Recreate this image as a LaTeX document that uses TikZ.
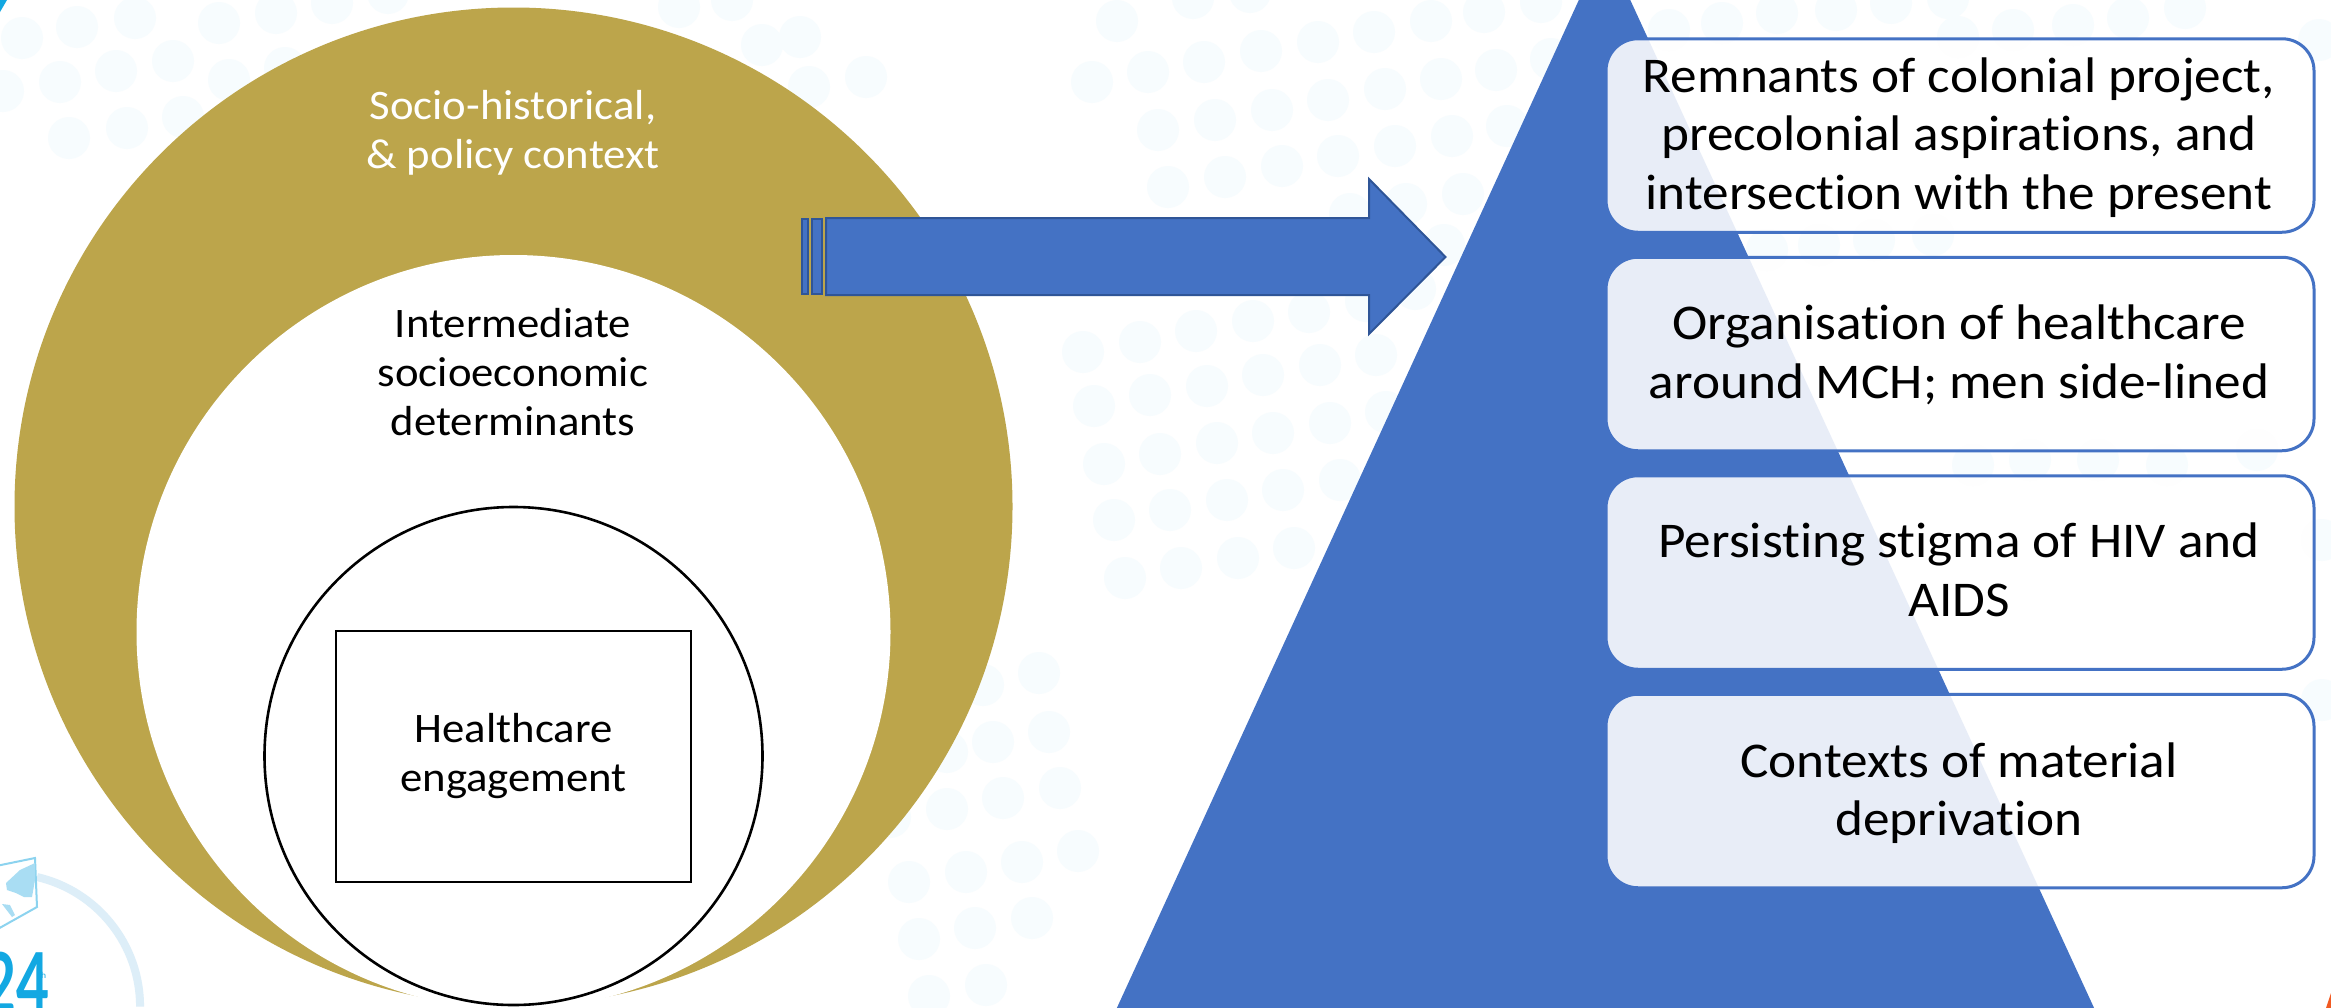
\documentclass[tikz,border=0pt]{standalone}
\usepackage{fontspec}
\setmainfont{Carlito}[FakeStretch=1.065,Ligatures=CommonOff]
\newfontfamily\logofont{Lato}[FakeStretch=0.68]
\definecolor{goldfill}{HTML}{BCA54B}
\definecolor{bluefill}{HTML}{4472C4}
\definecolor{bluedark}{HTML}{2F5597}
\definecolor{dotpale}{HTML}{F7FCFE}
\definecolor{ringpale}{HTML}{DDEEF8}
\definecolor{logoblue}{HTML}{13A8E2}
\definecolor{logoedge}{HTML}{8CD3EF}
\definecolor{logomap}{HTML}{A9DDF3}
\definecolor{sliver}{HTML}{F15A22}
\tikzset{
  x=1pt,y=-1pt,
  dotmark/.style={fill=dotpale,draw=none},
  ring/.style={circle,inner sep=0pt,draw=none},
  lblsmall/.style={font=\fontsize{42}{49}\selectfont,align=center,inner sep=0pt},
  lblbig/.style={font=\fontsize{50}{58.6}\selectfont,align=center,inner sep=0pt,text=black},
  factbox/.style={rectangle,rounded corners=32pt,minimum width=708pt,minimum height=193.5pt,inner sep=0pt,
    draw=bluefill,line width=3pt,fill=white,fill opacity=.88,draw opacity=1},
  arrowpart/.style={fill=bluefill,draw=bluedark,line width=2pt,line join=miter},
}
\begin{document}
\begin{tikzpicture}
\useasboundingbox (0,0) rectangle (2331,1007);
\clip (0,0) rectangle (2331,1007);
\fill[white] (0,0) rectangle (2331,1007);
% background dots
\foreach \px/\py in {22/38,77/27,135/18,219/23,276/13,332/3,388/-7,3/91,60/82,116/71,173/61,229/80,285/68,69/138,127/128,183/117,
 679/7,732/0,762/45,800/37,866/77,809/87,
 983/685,1039/673,993/742,1049/732,947/752,1003/798,1060/788,947/809,890/817,909/882,966/872,1022/862,1078/851,919/939,975/928,1032/918,929/996,986/985,
 1669/30,1722/23,1777/13,1836/10,1891/3,1948/-2,1958/37,2013/30,2073/25,2128/18,2185/8,2319/40,
 1767/250,1819/245,1874/240,1933/235,1973/465,2030/460,2098/460,2167/465,2257/450,2322/540,2322/700,
 1117/21,1193/-2,1250/-8,
 1092/82,1148/72,1204/62,1261/51,1318/42,1374/32,1431/21,1484/12,1541/2,
 1158/130,1215/120,1272/110,1328/100,1385/89,1441/79,1496/70,1551/59,
 1168/187,1225/177,1282/166,1338/156,1395/146,1452/136,1507/126,
 1350/214,1406/204,1463/194,1444/245,1415/289,
 1083/352,1140/342,1196/331,1253/321,1309/312,1366/301,
 1094/406,1150/395,1207/386,1263/375,1320/365,1376/355,
 1104/464,1160/454,1217/443,1273/433,1330/423,1386/412,
 1114/520,1170/510,1227/500,1283/490,1340/480,
 1125/578,1181/568,1238/558,1294/548}{
  \path[dotmark] (\px,\py) circle[radius=21];
}
% logo
\draw[ringpale,line width=8pt] (37,877) arc[start angle=-77,end angle=0,radius=133];
\path[fill=white,draw=logoedge,line width=2pt] (-4,866) -- (35,858) -- (37,907) -- (-4,930) -- cycle;
\path[fill=logomap] (6,883) -- (20,870) -- (35,863) -- (35,880) -- (32,897) -- (24,897) -- (16,893) -- (7,890) -- cycle;
\path[fill=logomap] (2,904) -- (10,905) -- (15,915) -- (12,917) -- cycle;
\node[anchor=base east,inner sep=0pt,text=logoblue,font=\logofont\bfseries\fontsize{84}{84}\selectfont] (logo) at (50,1013) {24};
\node[anchor=center,inner sep=0pt,text=logoblue,font=\fontsize{9}{9}\selectfont] (logoth) at (42,975) {th};
\path[fill=sliver] (2332,990) -- (2326,1008) -- (2332,1008) -- cycle;
\path[fill=logoblue] (0,0) -- (7,0) -- (0,12) -- cycle;
% nested circles
\node[ring,fill=goldfill,minimum size=998pt] (outer) at (513.5,506.5) {};
\node[ring,fill=white,minimum size=754pt] (inner) at (513.5,632) {};
\node[ring,fill=white,draw=black,line width=2.6pt,minimum size=498pt] (core) at (513.5,756) {};
\node[rectangle,draw=black,line width=2pt,fill=white,minimum width=355pt,minimum height=251pt,inner sep=0pt,lblsmall] (care) at (513.5,756.5) {Healthcare\\engagement};
\node[lblsmall,text=white] (socio) at (513,132.5) {Socio-historical,\\\& policy context};
\node[lblsmall] (inter) at (513,372) {Intermediate\\socioeconomic\\determinants};
% pyramid
\path[fill=bluefill] (1604.5,-56) -- (2118,1060) -- (1093,1060) -- cycle;
% arrow
\path[arrowpart] (802,219) rectangle (808,294);
\path[arrowpart] (812,219) rectangle (822,294);
\path[arrowpart] (826,218) -- (1369,218) -- (1369,179) -- (1445.5,257) -- (1369,334) -- (1369,295) -- (826,295) -- cycle;
% boxes
\node[factbox] (b1) at (1960,135.5) {};
\node[factbox] (b2) at (1960,354) {};
\node[factbox] (b3) at (1960,572.5) {};
\node[factbox] (b4) at (1960,791) {};
\node[lblbig] (t1) at (1959,137.5) {Remnants of colonial project,\\precolonial aspirations, and\\intersection with the present};
\node[lblbig] (t2) at (1959,355) {Organisation of healthcare\\around MCH; men side-lined};
\node[lblbig] (t3) at (1959,570) {Persisting stigma of HIV and\\AIDS};
\node[lblbig] (t4) at (1959,793) {Contexts of material\\deprivation};
\end{tikzpicture}
\end{document}
